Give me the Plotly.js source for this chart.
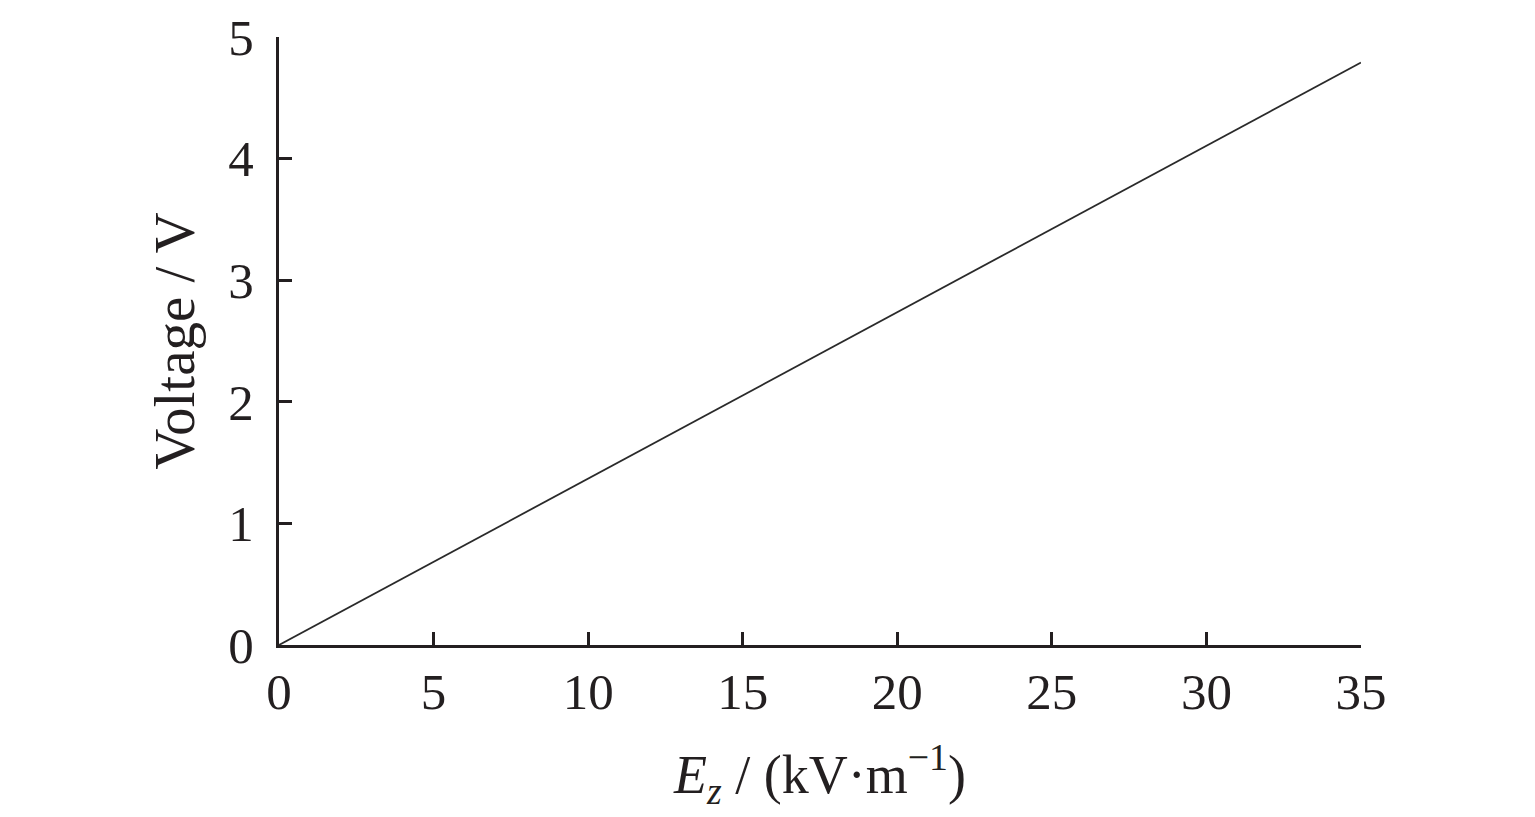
<!DOCTYPE html>
<html>
<head>
<meta charset="utf-8">
<script src="https://cdn.plot.ly/plotly-3.0.1.min.js"></script>
<style>html,body{margin:0;padding:0;background:#fff;}#chart{width:1535px;height:817px;}</style>
</head>
<body>
<div id="chart"></div>
<script>
const fieldKV = [0, 5, 10, 15, 20, 25, 30, 35];
const voltage = [0, 0.684, 1.368, 2.053, 2.737, 3.421, 4.105, 4.79];
const xTicks = [0, 5, 10, 15, 20, 25, 30, 35];
const yTicks = [0, 1, 2, 3, 4, 5];
const xTitle = '<i>E</i><sub><i>z</i></sub> / (kV·m<sup>−1</sup>)';
const yTitle = 'Voltage / V';

const ink = '#231f20';
const fam = '"Liberation Serif", "Times New Roman", serif';
const tickFont = {family: fam, size: 51, color: ink};

Plotly.newPlot('chart', [{
  x: fieldKV, y: voltage, type: 'scatter', mode: 'lines',
  line: {color: '#2a2a2a', width: 1.8}, hoverinfo: 'skip'
}], {
  width: 1535, height: 817,
  margin: {l: 279, r: 174, t: 37, b: 172},
  paper_bgcolor: '#fff', plot_bgcolor: '#fff',
  showlegend: false,
  font: tickFont,
  xaxis: {
    range: [0, 35], tickvals: xTicks, ticktext: xTicks.map(String),
    showgrid: false, zeroline: false, showline: true, linecolor: ink, linewidth: 3,
    ticks: 'inside', ticklen: 13, tickwidth: 3, tickcolor: ink,
    tickfont: tickFont, ticklabelstandoff: 0,
    title: {text: xTitle, font: {family: fam, size: 54, color: ink}, standoff: 36},
    automargin: false
  },
  yaxis: {
    range: [0, 5], tickvals: yTicks, ticktext: yTicks.map(String),
    showgrid: false, zeroline: false, showline: true, linecolor: ink, linewidth: 3,
    ticks: 'inside', ticklen: 13, tickwidth: 3, tickcolor: ink,
    tickfont: tickFont, ticklabelstandoff: 12,
    title: {text: yTitle, font: {family: fam, size: 57, color: ink}, standoff: 16},
    automargin: false
  }
}, {displayModeBar: false, staticPlot: true});
</script>
</body>
</html>
